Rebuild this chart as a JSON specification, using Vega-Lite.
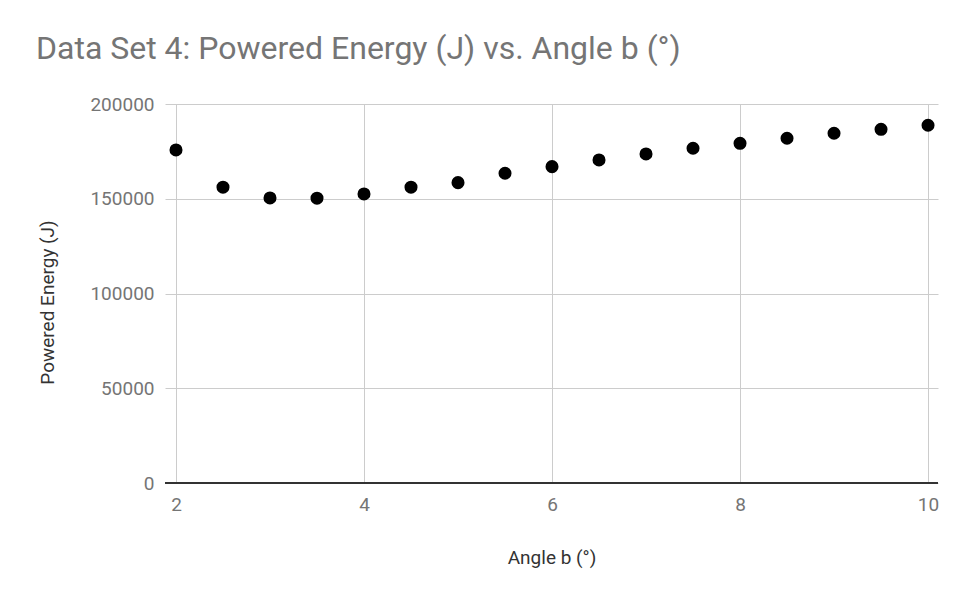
{
  "$schema": "https://vega.github.io/schema/vega-lite/v6.json",
  "width": 773,
  "height": 379,
  "autosize": {"type": "none"},
  "padding": {"left": 165, "top": 104, "right": 31, "bottom": 116},
  "background": "#ffffff",
  "title": {
    "text": "Data Set 4: Powered Energy (J) vs. Angle b (°)",
    "anchor": "start",
    "frame": "group",
    "font": "Roboto",
    "fontSize": 32,
    "fontWeight": "normal",
    "color": "#757575",
    "dx": -129,
    "baseline": "alphabetic",
    "offset": 4
  },
  "data": {
    "values": [
      {"angle": 2, "energy": 175750},
      {"angle": 2.5, "energy": 156080},
      {"angle": 3, "energy": 150440},
      {"angle": 3.5, "energy": 150280},
      {"angle": 4, "energy": 152550},
      {"angle": 4.5, "energy": 156080},
      {"angle": 5, "energy": 158500},
      {"angle": 5.5, "energy": 163460},
      {"angle": 6, "energy": 166950},
      {"angle": 6.5, "energy": 170480},
      {"angle": 7, "energy": 173640},
      {"angle": 7.5, "energy": 176650},
      {"angle": 8, "energy": 179280},
      {"angle": 8.5, "energy": 181920},
      {"angle": 9, "energy": 184560},
      {"angle": 9.5, "energy": 186660},
      {"angle": 10, "energy": 188780}
    ]
  },
  "config": {
    "view": {"stroke": null},
    "axis": {
      "labelFont": "Roboto",
      "titleFont": "Roboto",
      "labelColor": "#757575",
      "titleColor": "#333333",
      "titleFontWeight": "normal",
      "gridColor": "#cccccc",
      "gridOpacity": 1,
      "gridWidth": 1,
      "ticks": false,
      "domain": false
    }
  },
  "layer": [
    {
      "mark": {"type": "rule", "color": "#333333", "strokeWidth": 2},
      "data": {"values": [{"zero": 0}]},
      "encoding": {"y": {"field": "zero", "type": "quantitative", "scale": {"domain": [0, 200000]}}}
    },
    {
      "mark": {"type": "circle", "color": "#000000", "opacity": 1, "size": 170},
      "encoding": {
        "x": {
          "field": "angle",
          "type": "quantitative",
          "scale": {"domain": [1.883, 10.106], "nice": false, "zero": false},
          "axis": {
            "title": "Angle b (°)",
            "values": [2, 4, 6, 8, 10],
            "labelFontSize": 19,
            "labelPadding": 12,
            "titleFontSize": 19,
            "titleBaseline": "middle",
            "titleY": 74
          }
        },
        "y": {
          "field": "energy",
          "type": "quantitative",
          "scale": {"domain": [0, 200000], "nice": false},
          "axis": {
            "title": "Powered Energy (J)",
            "values": [0, 50000, 100000, 150000, 200000],
            "format": "d",
            "labelFontSize": 19,
            "labelPadding": 11,
            "titleFontSize": 19,
            "titleBaseline": "middle",
            "titleX": -118,
            "titleY": 198
          }
        }
      }
    }
  ]
}
